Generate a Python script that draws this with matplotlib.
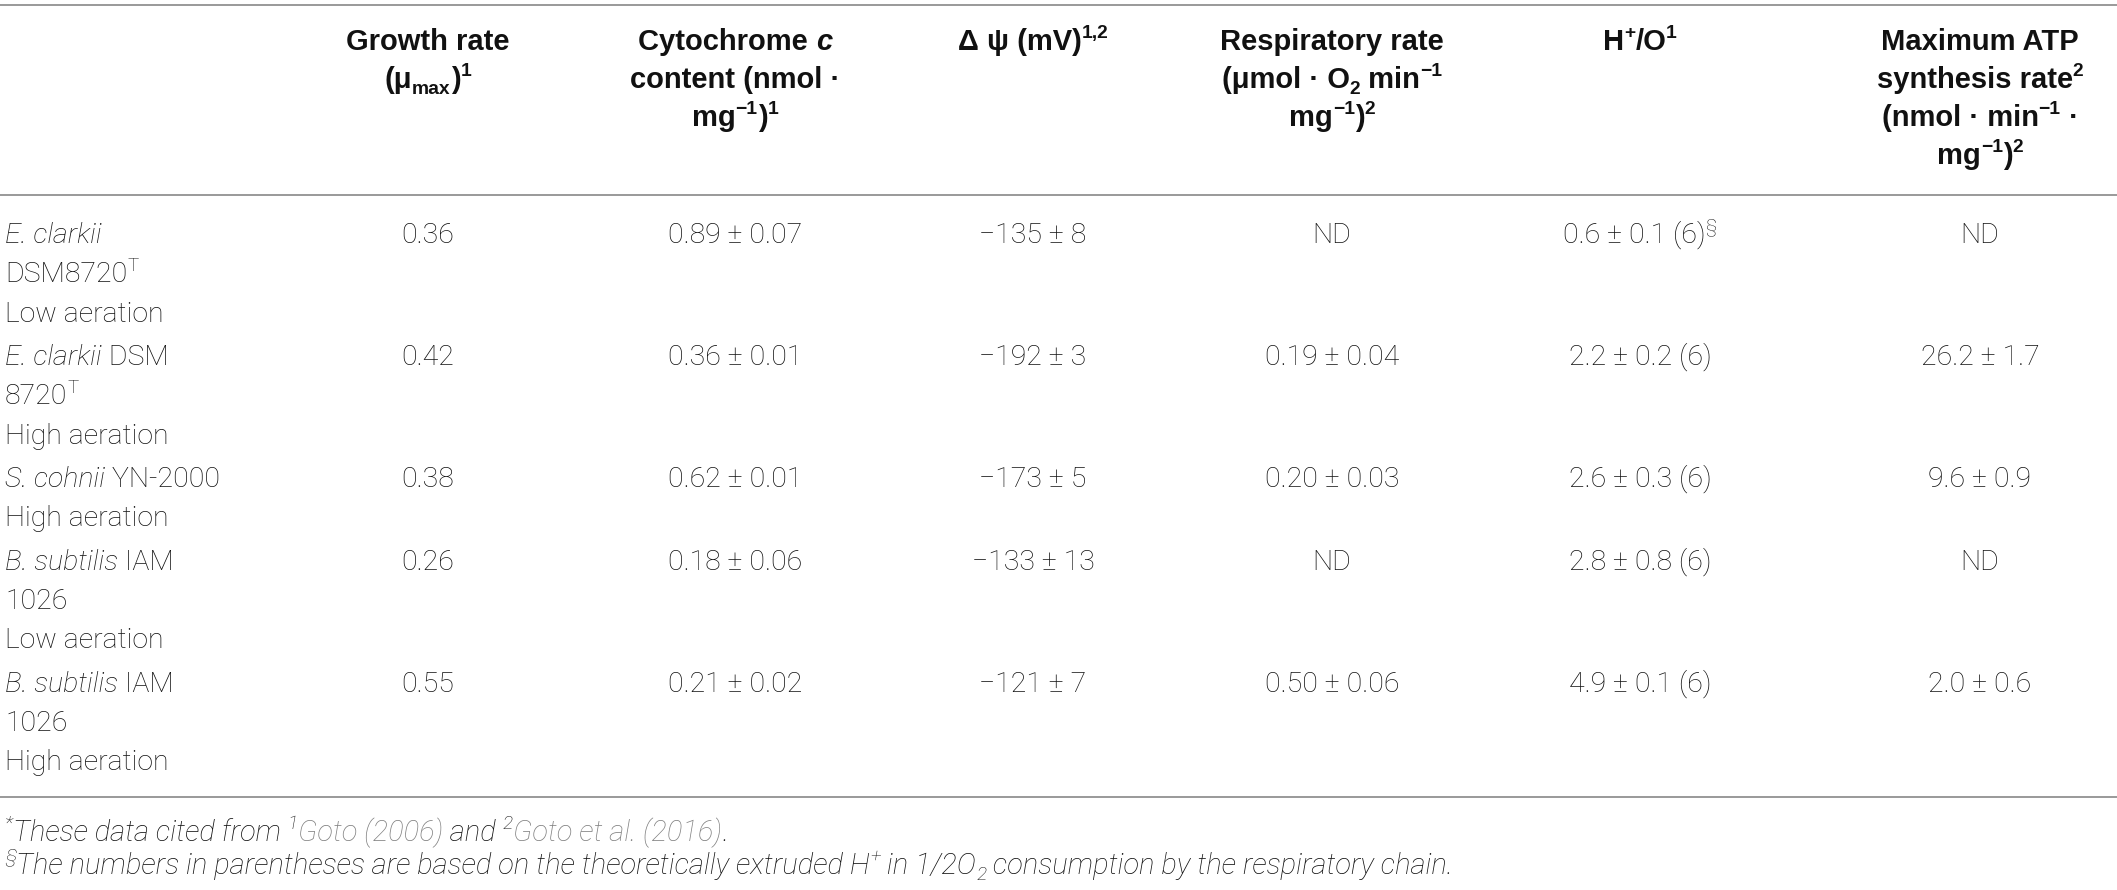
import re
import matplotlib
matplotlib.use('Agg')
import matplotlib.pyplot as plt

# table content
headers = [
    ['Growth rate', '(μ_{max})^{1}'],
    ['Cytochrome *c*', 'content (nmol ·', 'mg^{−1})^{1}'],
    ['Δ ψ (mV)^{1,2}'],
    ['Respiratory rate', '(μmol · O_{2} min^{−1}', 'mg^{−1})^{2}'],
    ['H^{+}/O^{1}'],
    ['Maximum ATP', 'synthesis rate^{2}', '(nmol · min^{−1} ·', 'mg^{−1})^{2}'],
]
strains = [
    ['*E. clarkii*', 'DSM8720^{T}', 'Low aeration'],
    ['*E. clarkii* DSM', '8720^{T}', 'High aeration'],
    ['*S. cohnii* YN-2000', 'High aeration'],
    ['*B. subtilis* IAM', '1026', 'Low aeration'],
    ['*B. subtilis* IAM', '1026', 'High aeration'],
]
growth_rate = ['0.36', '0.42', '0.38', '0.26', '0.55']
cytochrome_c = ['0.89 ± 0.07', '0.36 ± 0.01', '0.62 ± 0.01', '0.18 ± 0.06', '0.21 ± 0.02']
delta_psi = ['−135 ± 8', '−192 ± 3', '−173 ± 5', '−133 ± 13', '−121 ± 7']
resp_rate = ['ND', '0.19 ± 0.04', '0.20 ± 0.03', 'ND', '0.50 ± 0.06']
h_per_o = ['0.6 ± 0.1 (6)^{§}', '2.2 ± 0.2 (6)', '2.6 ± 0.3 (6)', '2.8 ± 0.8 (6)', '4.9 ± 0.1 (6)']
atp_rate = ['ND', '26.2 ± 1.7', '9.6 ± 0.9', 'ND', '2.0 ± 0.6']
footnotes = [
    '^{*}These data cited from ^{1}#{Goto (2006)} and ^{2}#{Goto et al. (2016)}.',
    '^{§}The numbers in parentheses are based on the theoretically extruded H^{+} in 1/2O_{2} consumption by the respiratory chain.',
]

FONT = 'Roboto'
HFONT = 'Liberation Sans'
TXT = '#111111'
GRAY = '#808080'
RULE = '#999999'
W, H = 2117, 890

fig = plt.figure(figsize=(W / 100, H / 100), dpi=100)
ax = fig.add_axes([0, 0, 1, 1])
ax.set_xlim(0, W)
ax.set_ylim(H, 0)
ax.axis('off')
renderer = fig.canvas.get_renderer()


def parse(s):
    toks = re.findall(r'\^\{[^}]*\}|_\{[^}]*\}|#\{[^}]*\}|\*[^*]+\*|[^*^_#]+', s)
    out = []
    for t in toks:
        if t.startswith('^{'):
            out.append((t[2:-1], 'sup'))
        elif t.startswith('_{'):
            out.append((t[2:-1], 'sub'))
        elif t.startswith('#{'):
            out.append((t[2:-1], 'gray'))
        elif t.startswith('*'):
            out.append((t[1:-1], 'it'))
        else:
            out.append((t, 'n'))
    return out


def width_of(txt, **kw):
    # bracket with bars so that leading/trailing spaces count
    a = ax.text(0, 0, '|' + txt + '|', **kw)
    b = ax.text(0, 0, '||', **kw)
    w = a.get_window_extent(renderer).width - b.get_window_extent(renderer).width
    a.remove()
    b.remove()
    return w


def draw(x, y, s, size=20.5, weight='light', style='normal', ha='left', family=FONT):
    px = size * 100 / 72
    arts = []
    total = 0
    for txt, kind in parse(s):
        fs = size * 0.66 if kind in ('sup', 'sub') else size
        dy = 0
        if kind == 'sup':
            dy = -0.42 * px
        elif kind == 'sub':
            dy = 0.2 * px
        kw = dict(fontsize=fs, fontfamily=family, fontweight=weight,
                  fontstyle='italic' if kind == 'it' else style,
                  color=GRAY if kind == 'gray' else TXT,
                  va='baseline', ha='left')
        w = width_of(txt, **kw)
        arts.append((txt, dy, kw, total))
        total += w
    x0 = x - total / 2 if ha == 'center' else x
    for txt, dy, kw, off in arts:
        ax.text(x0 + off, y + dy, txt, **kw)


col_x = [428, 735, 1033, 1332, 1640, 1980]
label_x = 5

# rules
for yy in (5, 195, 797):
    ax.axhline(yy, color=RULE, lw=1.4)

# header
for cx, lines in zip(col_x, headers):
    for k, line in enumerate(lines):
        draw(cx, 50 + k * 38, line, size=21, weight='bold', ha='center', family=HFONT)

# body
columns = [growth_rate, cytochrome_c, delta_psi, resp_rate, h_per_o, atp_rate]
line_h = 39.5
y = 243
for i, label in enumerate(strains):
    for k, line in enumerate(label):
        draw(label_x, y + k * line_h, line)
    for cx, col in zip(col_x, columns):
        draw(cx, y, col[i], ha='center')
    y += len(label) * line_h + 3.5

# footnotes
for k, note in enumerate(footnotes):
    draw(label_x, 841 + k * 33, note, size=21, style='italic')

fig.savefig('out.png', dpi=100)
